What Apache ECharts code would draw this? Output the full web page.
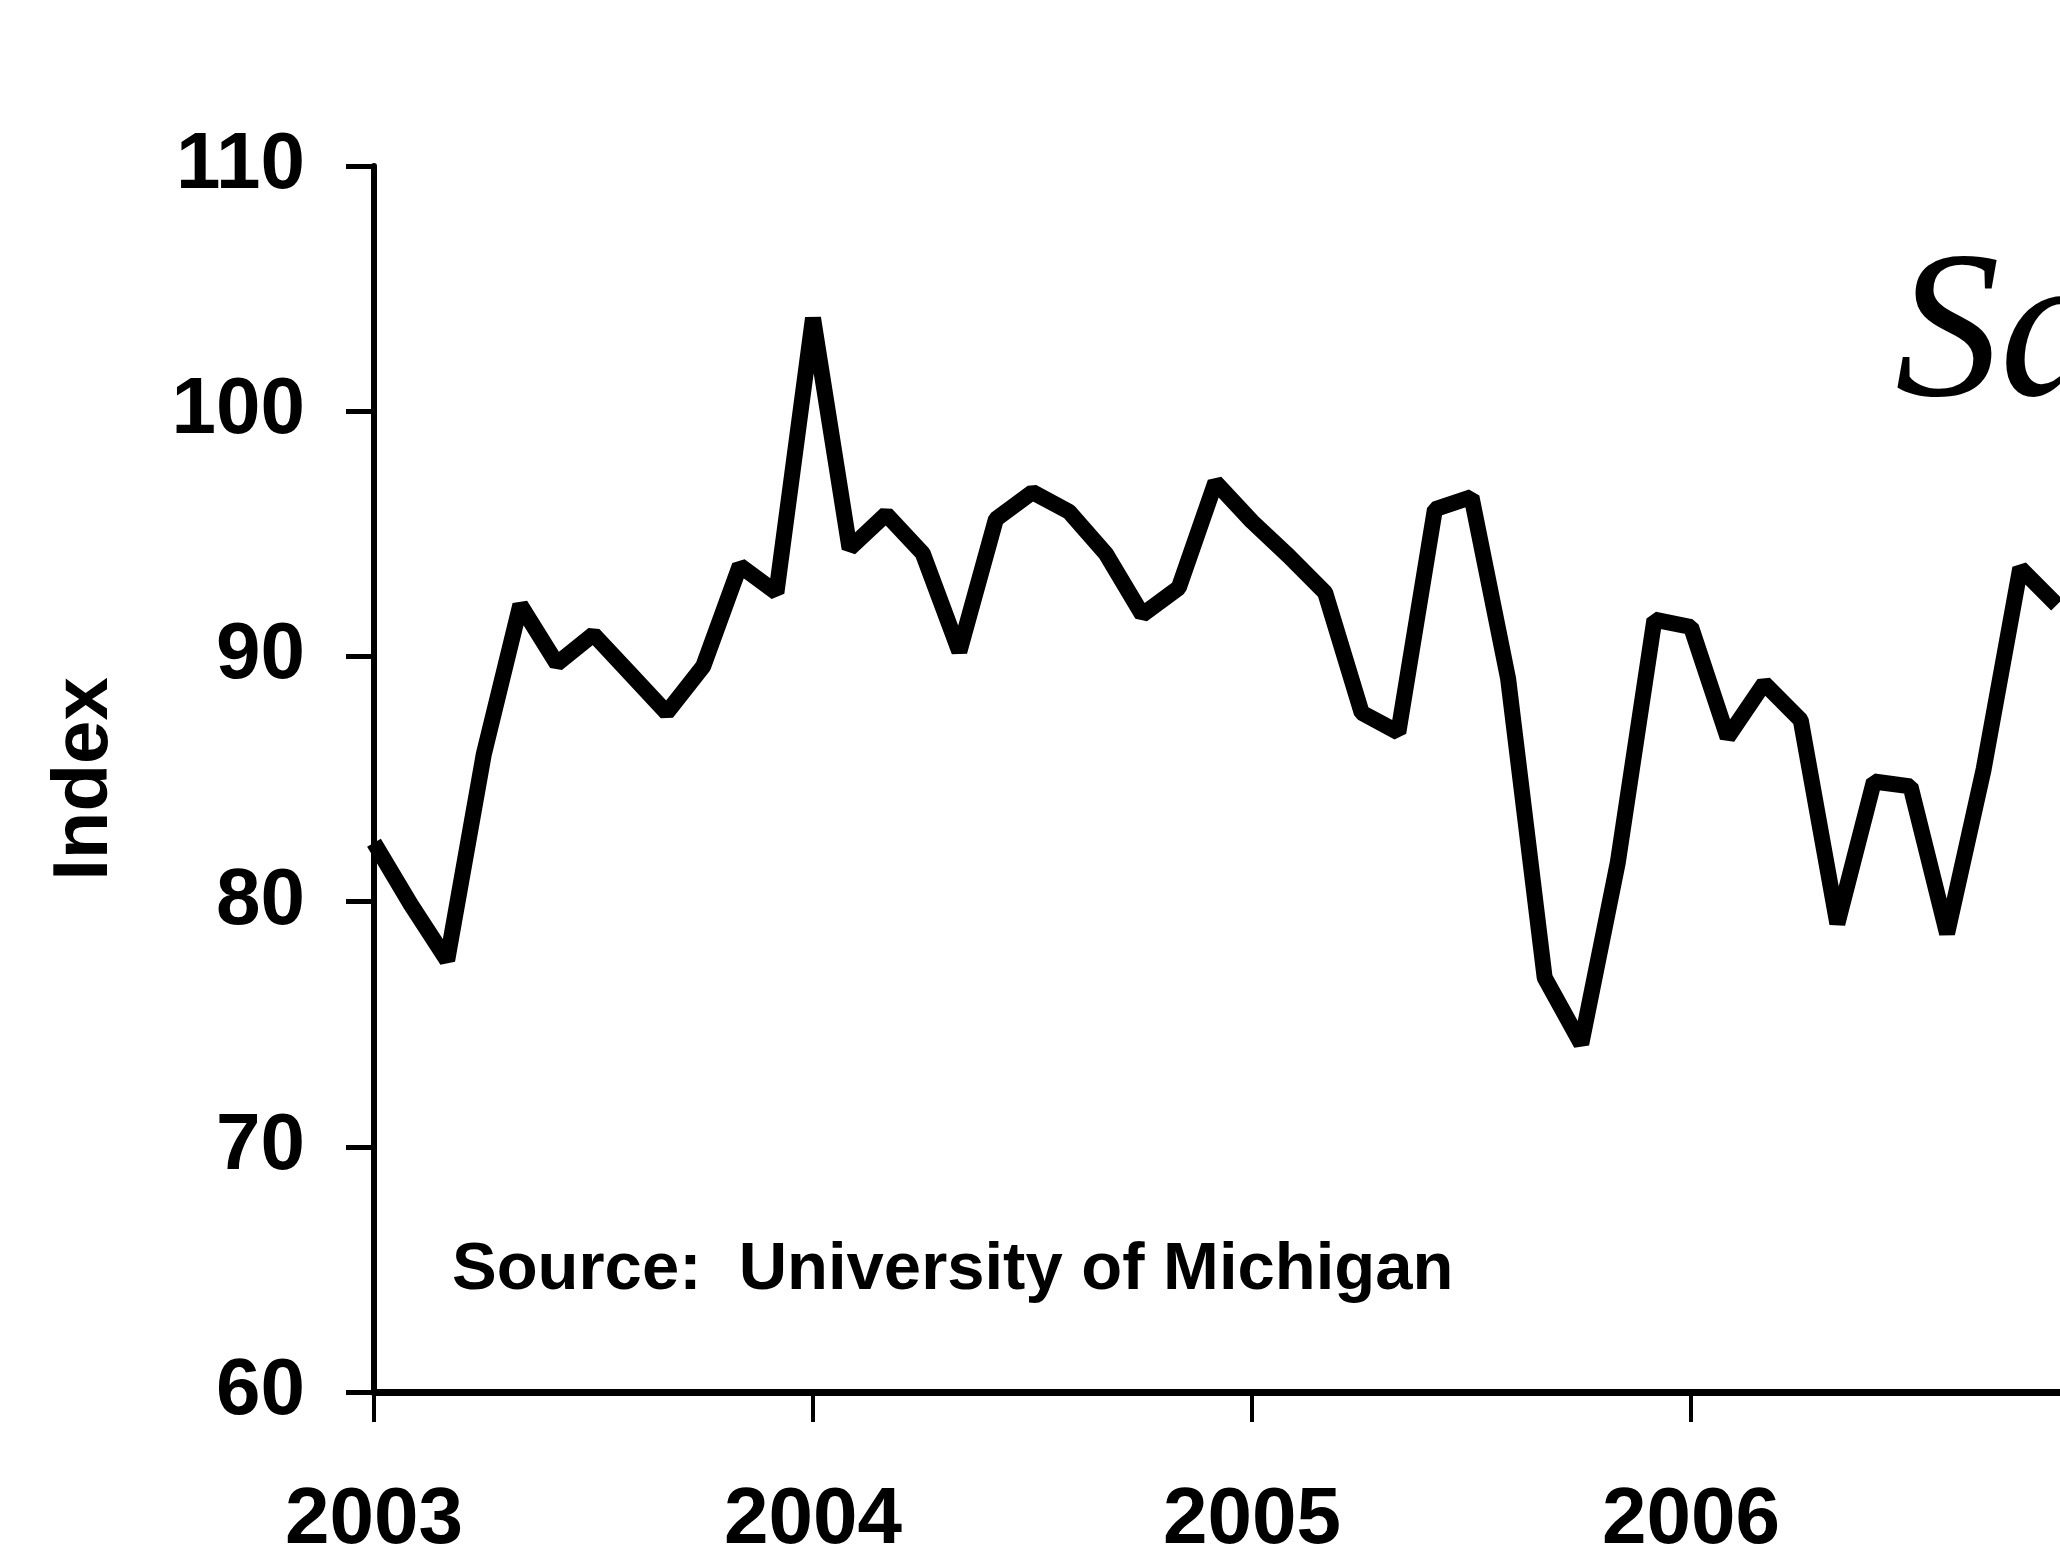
<!DOCTYPE html>
<html>
<head>
<meta charset="utf-8">
<script src="https://cdn.jsdelivr.net/npm/echarts@6/dist/echarts.min.js"></script>
<style>
html,body{margin:0;padding:0;background:#fff;}
#chart{width:2060px;height:1557px;}
</style>
</head>
<body>
<div id="chart"></div>
<script>
// Years shown on the x axis (monthly data, January of each year is labelled)
var years = ['2003', '2004', '2005', '2006', '2007'];
// Consumer sentiment index, monthly, Jan 2003 - Nov 2006
var sentiment2003 = [82.4, 79.9, 77.6, 86.0, 92.1, 89.7, 90.9, 89.3, 87.7, 89.6, 93.7, 92.6];
var sentiment2004 = [103.8, 94.4, 95.8, 94.2, 90.2, 95.6, 96.7, 95.9, 94.2, 91.7, 92.8, 97.1];
var sentiment2005 = [95.5, 94.1, 92.6, 87.7, 86.9, 96.0, 96.5, 89.1, 76.9, 74.2, 81.6, 91.5];
var sentiment2006 = [91.2, 86.7, 88.9, 87.4, 79.1, 84.9, 84.7, 78.7, 85.4, 93.6, 92.1];
var yTicks = [60, 70, 80, 90, 100, 110];
var axisName = 'Index';
var sourceNote = 'Source:  University of Michigan';
var handNote = 'Sa';

var months = [];
for (var y = 0; y < years.length - 1; y++) {
  for (var m = 1; m <= 12; m++) months.push(years[y] + '-' + (m < 10 ? '0' + m : m));
}
months.push(years[years.length - 1] + '-01');
var values = [].concat(sentiment2003, sentiment2004, sentiment2005, sentiment2006);

var isJan = function (idx) { return idx % 12 === 0; };
var isShownYear = function (idx) { return idx % 12 === 0 && idx < months.length - 1; };
var chart = echarts.init(document.getElementById('chart'), null, {renderer: 'canvas'});
chart.setOption({
  backgroundColor: '#ffffff',
  animation: false,
  grid: {left: 374, top: 166, width: 1756, height: 1226, containLabel: false, outerBoundsMode: 'none'},
  xAxis: {
    type: 'category',
    data: months,
    boundaryGap: false,
    axisLine: {show: true, lineStyle: {color: '#000', width: 7}},
    axisTick: {show: true, interval: isJan, length: 30, lineStyle: {color: '#000', width: 4}},
    axisLabel: {
      interval: isShownYear,
      margin: 89,
      color: '#000',
      fontFamily: '"Liberation Sans", Arial, sans-serif',
      fontWeight: 'bold',
      fontSize: 80,
      formatter: function (v) { return v.slice(0, 4); }
    },
    splitLine: {show: false}
  },
  yAxis: {
    type: 'value',
    min: yTicks[0],
    max: yTicks[yTicks.length - 1],
    interval: yTicks[1] - yTicks[0],
    name: axisName,
    nameLocation: 'middle',
    nameRotate: 90,
    nameGap: 250,
    nameTextStyle: {
      color: '#000',
      fontFamily: '"Liberation Sans", Arial, sans-serif',
      fontWeight: 'bold',
      fontSize: 78
    },
    axisLine: {show: true, lineStyle: {color: '#000', width: 6}},
    axisTick: {show: true, length: 28, lineStyle: {color: '#000', width: 5}},
    axisLabel: {
      margin: 69,
      color: '#000',
      fontFamily: '"Liberation Sans", Arial, sans-serif',
      fontWeight: 'bold',
      fontSize: 80
    },
    splitLine: {show: false}
  },
  series: [{
    type: 'line',
    data: values,
    showSymbol: false,
    symbol: 'none',
    clip: false,
    lineStyle: {color: '#000', width: 16},
    z: 3
  }],
  graphic: [
    {
      type: 'text',
      left: 452,
      top: 1237,
      style: {
        text: sourceNote,
        fill: '#000',
        font: 'bold 67px "Liberation Sans", Arial, sans-serif'
      }
    },
    {
      type: 'text',
      left: 1895,
      top: 235,
      style: {
        text: handNote,
        fill: '#000',
        font: 'italic 210px "Liberation Serif", serif'
      }
    }
  ]
});
</script>
</body>
</html>
